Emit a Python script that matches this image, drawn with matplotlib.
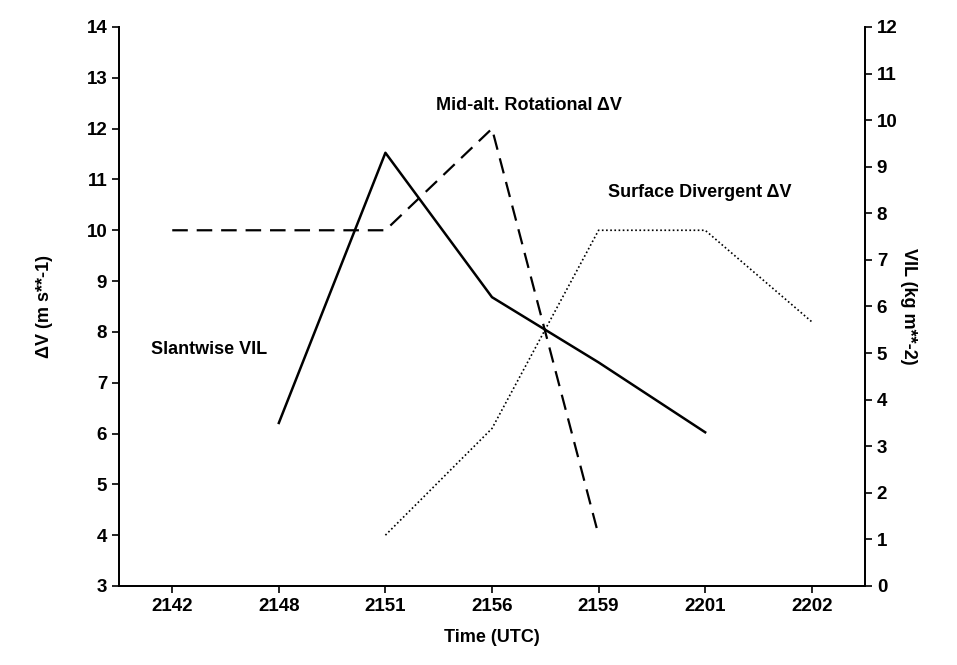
import matplotlib
matplotlib.use("Agg")
import matplotlib.pyplot as plt
import numpy as np

plt.rcParams['font.family'] = ['Liberation Sans', 'DejaVu Sans']
plt.rcParams['font.weight'] = 'bold'

times = ["2142", "2148", "2151", "2156", "2159", "2201", "2202"]

# Mid-alt. Rotational dV (left axis, dashed)
rot_times = ["2142", "2148", "2151", "2156", "2159"]
rot_dv = [10, 10, 10, 12, 4]

# Surface Divergent dV (left axis, dotted)
div_times = ["2151", "2156", "2159", "2201", "2202"]
div_dv = [4, 6.1, 10, 10, 8.2]

# Slantwise VIL (right axis, solid)
vil_times = ["2148", "2151", "2156", "2159", "2201"]
vil = [3.5, 9.3, 6.2, 4.8, 3.3]

idx = {t: i for i, t in enumerate(times)}

fig = plt.figure(figsize=(9.57, 6.65), dpi=100)
ax = fig.add_axes([0.1243, 0.1188, 0.7796, 0.8406])
ax2 = ax.twinx()

ax.plot([idx[t] for t in rot_times], rot_dv, color='black', lw=1.6,
        linestyle=(0, (7, 4)))
ax.plot([idx[t] for t in div_times], div_dv, color='black', lw=1.2,
        linestyle=(0, (1, 1.5)))
ax2.plot([idx[t] for t in vil_times], vil, color='black', lw=1.8)

ax.set_xlim(-0.5, len(times) - 0.5)
ax.set_ylim(3, 14)
ax2.set_ylim(0, 12)
ax.set_xticks(range(len(times)))
ax.set_xticklabels(times)
ax.set_yticks(range(3, 15))
ax2.set_yticks(range(0, 13))

for a in (ax, ax2):
    a.spines['top'].set_visible(False)
    for s in a.spines.values():
        s.set_linewidth(1.3)
    a.tick_params(labelsize=13.5, width=1.2, length=5)

ax.set_xlabel("Time (UTC)", fontsize=13, fontweight='bold', labelpad=10)
ax.set_ylabel("ΔV (m s**-1)", fontsize=13, fontweight='bold', labelpad=24)
ax2.set_ylabel("VIL (kg m**-2)", fontsize=13, fontweight='bold',
               rotation=270, labelpad=14)

ax.text(3.35, 12.45, "Mid-alt. Rotational ΔV", fontsize=13, fontweight='bold',
        ha='center', va='center')
ax.text(4.95, 10.75, "Surface Divergent ΔV", fontsize=13, fontweight='bold',
        ha='center', va='center')
ax.text(0.35, 7.65, "Slantwise VIL", fontsize=13, fontweight='bold',
        ha='center', va='center')

fig.savefig("out.png", dpi=100)
